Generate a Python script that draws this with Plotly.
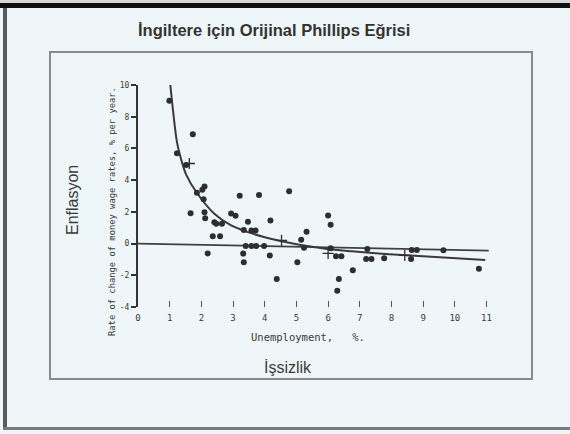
import plotly.graph_objects as go

# ---- data ----
dots_x = [0.99, 1.23, 1.73, 1.52, 1.66, 1.86, 2.03, 2.10, 2.07, 2.10, 2.12, 2.41, 2.47, 2.65,
          2.36, 2.59, 2.20, 2.94, 3.08, 3.21, 3.47, 3.82, 4.18, 4.77, 3.34, 3.58, 3.71,
          3.40, 3.58, 3.73, 3.98, 3.32, 3.34, 4.16, 4.38, 5.03, 5.15, 5.32, 6.00, 6.08,
          5.24, 6.08, 6.25, 6.42, 6.78, 6.34, 6.29, 7.24, 7.20, 7.37, 7.77, 8.64, 8.80,
          8.62, 9.64, 10.76]
dots_y = [9.0, 5.7, 6.9, 4.95, 1.92, 3.2, 3.4, 3.6, 2.8, 1.98, 1.6, 1.35, 1.25, 1.25,
          0.46, 0.46, -0.62, 1.9, 1.75, 3.02, 1.37, 3.06, 1.46, 3.3, 0.86, 0.82, 0.82,
          -0.15, -0.15, -0.15, -0.15, -0.63, -1.18, -0.76, -2.24, -1.18, 0.24, 0.74, 1.77, 1.18,
          -0.27, -0.3, -0.8, -0.8, -1.69, -2.24, -2.97, -0.34, -0.97, -0.97, -0.93, -0.4, -0.4,
          -0.97, -0.42, -1.58]

cross_x = [1.62, 4.53, 6.00, 8.42]
cross_y = [5.05, 0.20, -0.62, -0.75]

curve_x = [1.02, 1.10, 1.23, 1.41, 1.52, 1.84, 2.41, 2.94, 3.47, 4.00, 4.53, 5.05, 5.58,
           6.11, 6.75, 7.80, 9.00, 10.96]
curve_y = [10.0, 8.5, 6.4, 4.98, 4.35, 3.25, 1.88, 1.14, 0.72, 0.40, 0.15, -0.06, -0.23,
           -0.38, -0.49, -0.65, -0.80, -1.03]

line_x = [-0.13, 11.07]
line_y = [0.0, -0.44]

x_ticks = [0, 1, 2, 3, 4, 5, 6, 7, 8, 9, 10, 11]
y_ticks = [-4, -2, 0, 2, 4, 6, 8, 10]

title_text = "İngiltere için Orijinal Phillips Eğrisi"
y_outer = "Enflasyon"
x_outer = "İşsizlik"
y_inner = "Rate of change of money wage rates, % per year."
x_inner = "Unemployment,   %."

# ---- layout geometry (pixels) ----
FW, FH = 570, 434
L, T, W, H = 138, 85, 358, 222


def px(x):
    return (x - L) / W


def py(y):
    return (T + H - y) / H


BG = "#eff6f9"
INK = "#2e2e2e"

fig = go.Figure()
fig.add_trace(go.Scatter(x=line_x, y=line_y, mode="lines",
                         line=dict(color="#404040", width=1.8), hoverinfo="skip"))
fig.add_trace(go.Scatter(x=curve_x, y=curve_y, mode="lines",
                         line=dict(color="#3a3a3a", width=2, shape="spline", smoothing=0.8),
                         hoverinfo="skip"))
fig.add_trace(go.Scatter(x=dots_x, y=dots_y, mode="markers",
                         marker=dict(symbol="circle", size=6, color=INK)))
fig.add_trace(go.Scatter(x=cross_x, y=cross_y, mode="markers",
                         marker=dict(symbol="cross-thin-open", size=8, color=INK,
                                     line=dict(color=INK, width=1.3))))

mono = dict(family="DejaVu Sans Mono", color="#3a3a3a")

fig.update_layout(
    width=FW, height=FH,
    margin=dict(l=L, r=FW - L - W, t=T, b=FH - T - H),
    paper_bgcolor=BG, plot_bgcolor=BG,
    showlegend=False,
    xaxis=dict(range=[0, 11.3], showgrid=False, zeroline=False, showline=False,
               tickvals=x_ticks, ticktext=[str(v) for v in x_ticks],
               ticks="inside", ticklen=6, tickwidth=1.2, tickcolor="#555",
               ticklabelstandoff=4,
               tickfont=dict(size=9, **mono)),
    yaxis=dict(range=[-4, 10], showgrid=False, zeroline=False, showline=True,
               linecolor="#333", linewidth=2,
               tickvals=y_ticks, ticktext=[str(v) for v in y_ticks],
               ticks="outside", ticklen=5, tickwidth=1.5, tickcolor="#333",
               tickfont=dict(size=8, **mono)),
)

shapes = [
    # top dark band
    dict(type="rect", xref="paper", yref="paper", x0=px(0), x1=px(FW), y0=py(0), y1=py(3),
         fillcolor="#d8d8d8", line=dict(width=0), layer="below"),
    dict(type="rect", xref="paper", yref="paper", x0=px(0), x1=px(FW), y0=py(3), y1=py(8),
         fillcolor="#111111", line=dict(width=0)),
    # left border
    dict(type="rect", xref="paper", yref="paper", x0=px(3), x1=px(7), y0=py(8), y1=py(430),
         fillcolor="#5a5a5a", line=dict(width=0)),
    # bottom border
    dict(type="rect", xref="paper", yref="paper", x0=px(3), x1=px(FW), y0=py(427), y1=py(430),
         fillcolor="#7a7a7a", line=dict(width=0)),
    # inner picture box
    dict(type="rect", xref="paper", yref="paper", x0=px(50), x1=px(532), y0=py(52), y1=py(379),
         line=dict(color="#8a8a8a", width=2), fillcolor="rgba(0,0,0,0)"),
]
fig.update_layout(shapes=shapes)

annotations = [
    dict(text="<b>" + title_text + "</b>", x=px(274), y=py(30),
         font=dict(family="Liberation Sans", size=16.5, color="#333333")),
    dict(text=y_outer, x=px(72), y=py(200), textangle=-90,
         font=dict(family="Liberation Sans", size=16, color="#3a3a3a")),
    dict(text=x_outer, x=px(288), y=py(367),
         font=dict(family="Liberation Sans", size=16, color="#3a3a3a")),
    dict(text=y_inner, x=px(112), y=py(212), textangle=-90,
         font=dict(size=8.8, **mono)),
    dict(text=x_inner, x=px(308), y=py(337),
         font=dict(size=10.5, **mono)),
]
for a in annotations:
    a.update(xref="paper", yref="paper", showarrow=False, xanchor="center", yanchor="middle")
fig.update_layout(annotations=annotations)

fig.write_html("out.html", config={"displayModeBar": False},
               post_script="document.body.style.margin='0';")
